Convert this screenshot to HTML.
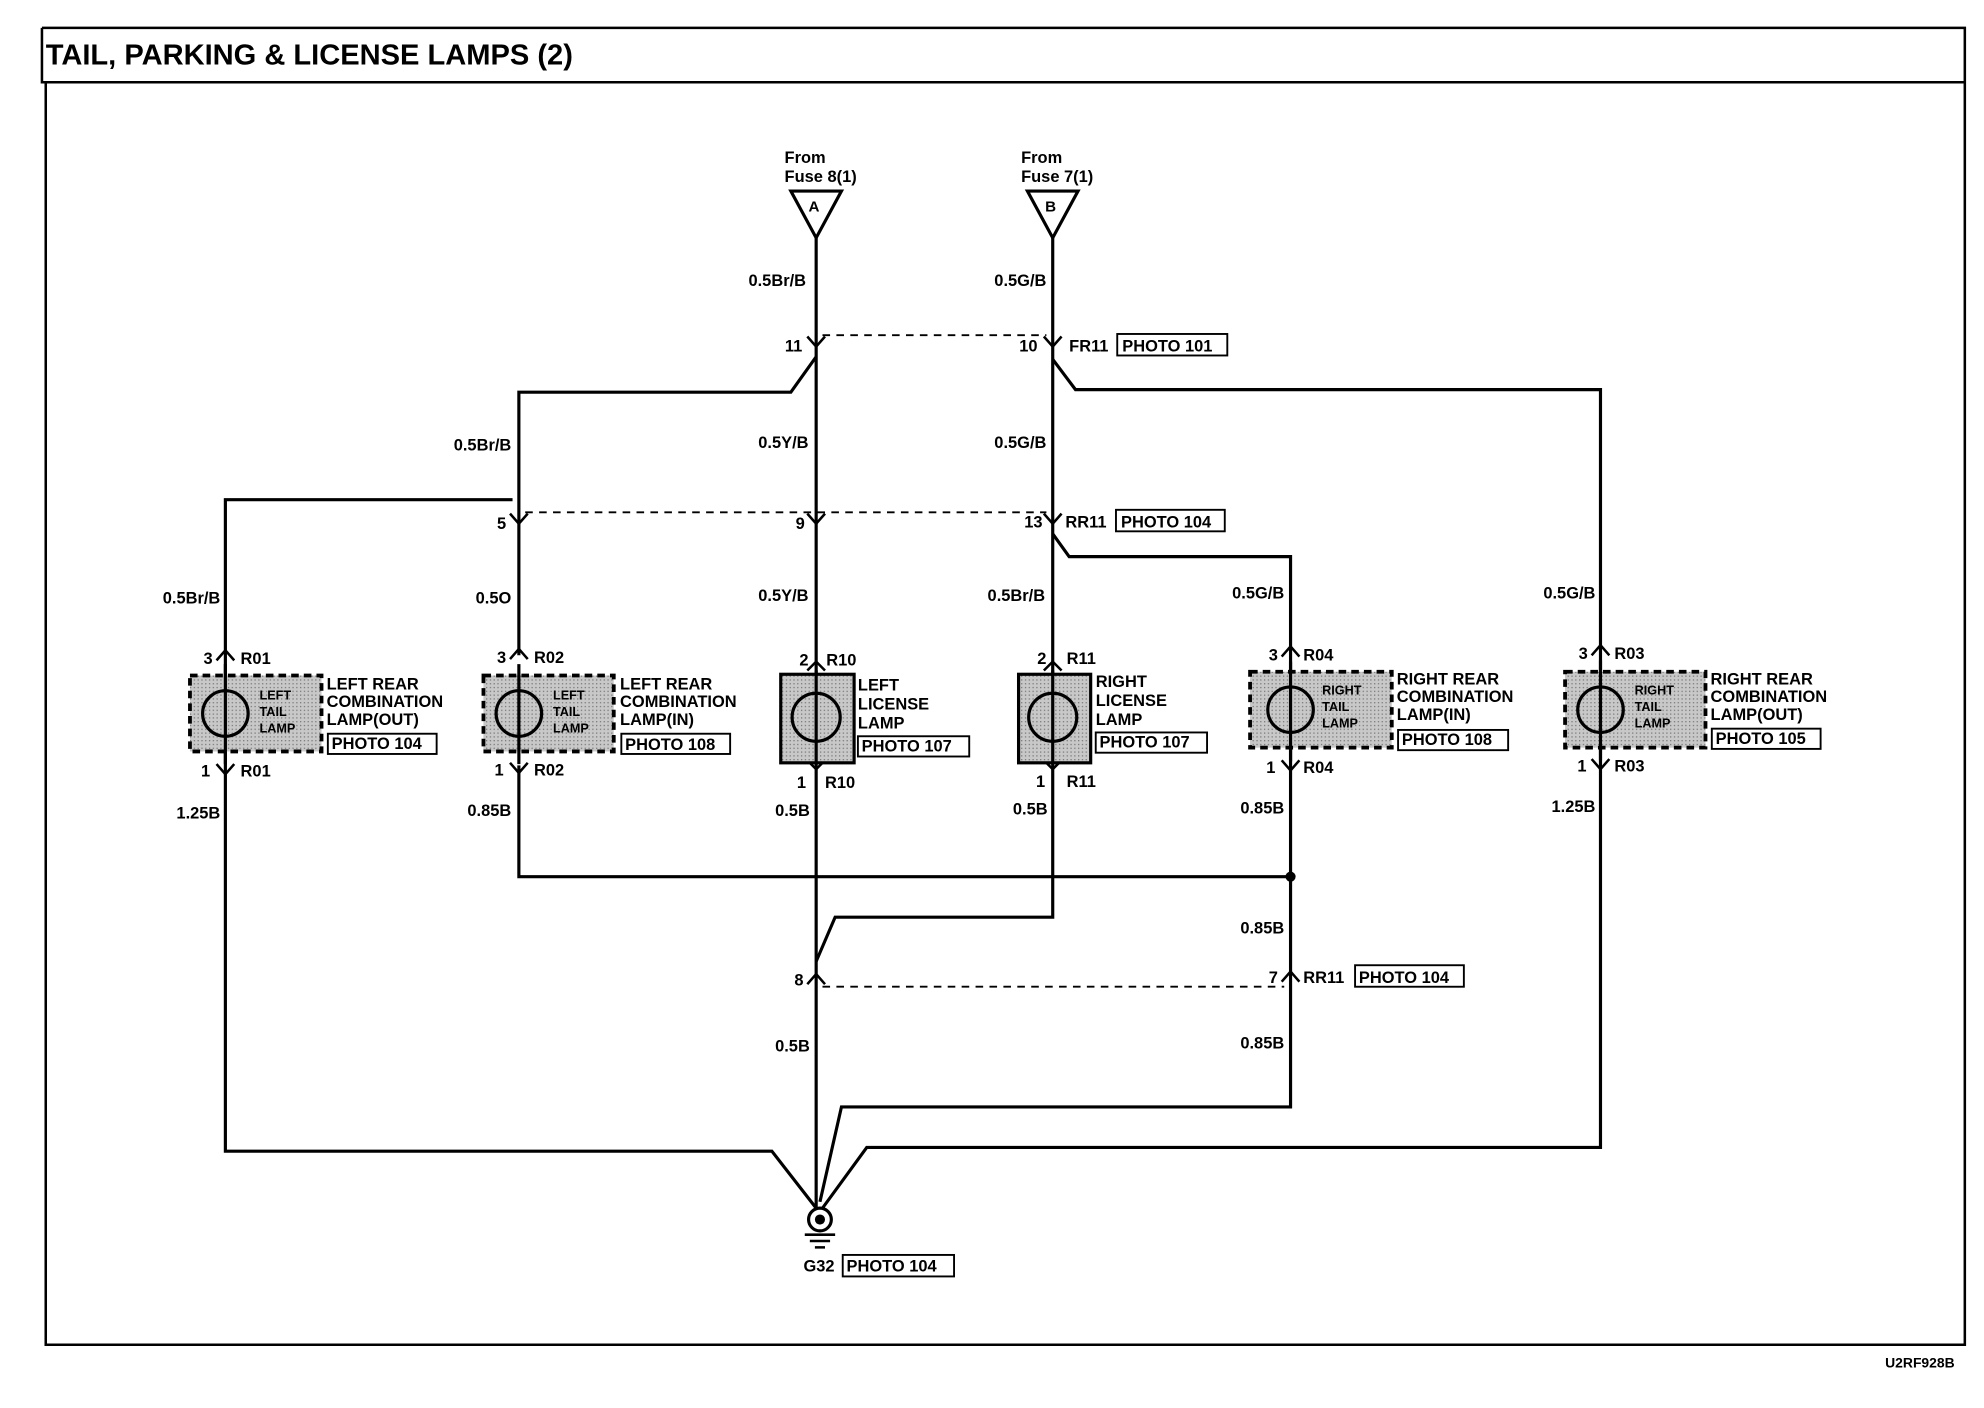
<!DOCTYPE html>
<html><head><meta charset="utf-8"><style>
html,body{margin:0;padding:0;background:#fff;}
svg{display:block}
text{font-family:"Liberation Sans",sans-serif;font-weight:bold;fill:#000;}
</style></head><body>
<svg width="1984" height="1408" viewBox="0 0 1568 1113" xmlns="http://www.w3.org/2000/svg">
<defs>
<pattern id="g" width="3" height="3" patternUnits="userSpaceOnUse"><rect width="3" height="3" fill="#c8c8c8"/><rect width="1" height="1" fill="#777"/></pattern>
</defs>
<!-- frame -->
<g fill="none" stroke="#000" stroke-width="2">
<path d="M33 22 H1553 V1063 H36 V65"/>
<path d="M33 22 V65 H1553"/>
</g>
<text x="36" y="51" font-size="23">TAIL, PARKING &amp; LICENSE LAMPS (2)</text>
<text x="1490" y="1081" font-size="11">U2RF928B</text>

<!-- fuses -->
<text x="620" y="129" font-size="13">From</text><text x="620" y="144" font-size="13">Fuse 8(1)</text>
<text x="807" y="129" font-size="13">From</text><text x="807" y="144" font-size="13">Fuse 7(1)</text>
<path d="M625 151 H665 L645 188 Z" fill="#fff" stroke="#000" stroke-width="2.5"/>
<path d="M812 151 H852 L832 188 Z" fill="#fff" stroke="#000" stroke-width="2.5"/>
<text x="639" y="167" font-size="12">A</text><text x="826" y="167" font-size="12">B</text>

<!-- wires -->
<g fill="none" stroke="#000" stroke-width="2.5">
<path d="M645 188 V955"/>
<path d="M832 188 V725 H660 L645 760"/>
<path d="M645 282 L625 310 H410 V518"/>
<path d="M405 395 H178 V910 H610 L645 955"/>
<path d="M832 284 L850 308 H1265 V907 H685 L650 955"/>
<path d="M832 422 L845 440 H1020 V875 H665 L648 950"/>
<path d="M410 605 V693 H1020"/>
</g>
<circle cx="1020" cy="693" r="4"/>
<g fill="none" stroke="#000" stroke-width="1.5" stroke-dasharray="6,5">
<path d="M650 265 H827"/><path d="M415 405 H827"/><path d="M650 780 H1015"/>
</g>

<!-- down chevrons (inline connectors) -->
<g fill="none" stroke="#000" stroke-width="2">
<path d="M638 266 l7 8 l7 -8"/><path d="M825 266 l7 8 l7 -8"/>
<path d="M403 406 l7 8 l7 -8"/><path d="M638 406 l7 8 l7 -8"/><path d="M825 406 l7 8 l7 -8"/>
<path d="M638 778 l7 -8 l7 8"/><path d="M1013 776 l7 -8 l7 8"/>
<!-- lamp pins top ^ -->
<path d="M171 522 l7 -8 l7 8"/><path d="M403 521 l7 -8 l7 8"/><path d="M638 530 l7 -7 l7 7"/><path d="M825 530 l7 -7 l7 7"/><path d="M1013 519 l7 -8 l7 8"/><path d="M1258 518 l7 -8 l7 8"/>
<!-- lamp pins bottom v -->
<path d="M171 604 l7 8 l7 -8"/><path d="M403 603 l7 8 l7 -8"/><path d="M638 601 l7 7 l7 -7"/><path d="M825 601 l7 7 l7 -7"/><path d="M1013 601 l7 8 l7 -8"/><path d="M1258 600 l7 8 l7 -8"/>
</g>

<!-- lamps -->
<g stroke="#000">
<rect x="150" y="534" width="104" height="60" fill="url(#g)" stroke-width="3" stroke-dasharray="6,4"/>
<rect x="382" y="534" width="103" height="60" fill="url(#g)" stroke-width="3" stroke-dasharray="6,4"/>
<rect x="617" y="533" width="58" height="70" fill="url(#g)" stroke-width="2.5"/>
<rect x="805" y="533" width="57" height="70" fill="url(#g)" stroke-width="2.5"/>
<rect x="988" y="531" width="112" height="60" fill="url(#g)" stroke-width="3" stroke-dasharray="6,4"/>
<rect x="1237" y="531" width="111" height="60" fill="url(#g)" stroke-width="3" stroke-dasharray="6,4"/>
<g fill="none" stroke-width="2.5">
<circle cx="178" cy="564" r="18"/><circle cx="410" cy="564" r="18"/><circle cx="645" cy="567" r="19"/><circle cx="832" cy="567" r="19"/><circle cx="1020" cy="561" r="18"/><circle cx="1265" cy="561" r="18"/>
</g>
<g stroke-width="2.5"><path d="M178 525 V604"/><path d="M410 525 V604"/><path d="M645 530 V604"/><path d="M832 530 V604"/><path d="M1020 523 V602"/><path d="M1265 522 V601"/></g>
</g>
<g font-size="10">
<text x="205" y="553">LEFT</text><text x="205" y="566">TAIL</text><text x="205" y="579">LAMP</text>
<text x="437" y="553">LEFT</text><text x="437" y="566">TAIL</text><text x="437" y="579">LAMP</text>
<text x="1045" y="549">RIGHT</text><text x="1045" y="562">TAIL</text><text x="1045" y="575">LAMP</text>
<text x="1292" y="549">RIGHT</text><text x="1292" y="562">TAIL</text><text x="1292" y="575">LAMP</text>
</g>
<g font-size="13">
<text x="258" y="545">LEFT REAR</text><text x="258" y="559">COMBINATION</text><text x="258" y="573">LAMP(OUT)</text><text x="262" y="592">PHOTO 104</text>
<text x="490" y="545">LEFT REAR</text><text x="490" y="559">COMBINATION</text><text x="490" y="573">LAMP(IN)</text><text x="494" y="593">PHOTO 108</text>
<text x="678" y="546">LEFT</text><text x="678" y="561">LICENSE</text><text x="678" y="576">LAMP</text><text x="681" y="594">PHOTO 107</text>
<text x="866" y="543">RIGHT</text><text x="866" y="558">LICENSE</text><text x="866" y="573">LAMP</text><text x="869" y="591">PHOTO 107</text>
<text x="1104" y="541">RIGHT REAR</text><text x="1104" y="555">COMBINATION</text><text x="1104" y="569">LAMP(IN)</text><text x="1108" y="589">PHOTO 108</text>
<text x="1352" y="541">RIGHT REAR</text><text x="1352" y="555">COMBINATION</text><text x="1352" y="569">LAMP(OUT)</text><text x="1356" y="588">PHOTO 105</text>
</g>
<g fill="none" stroke="#000" stroke-width="1.5">
<rect x="259" y="580" width="86" height="16"/><rect x="491" y="580" width="86" height="16"/><rect x="678" y="582" width="88" height="16"/><rect x="866" y="579" width="88" height="16"/><rect x="1105" y="577" width="87" height="16"/><rect x="1353" y="576" width="86" height="16"/>
<rect x="883" y="264" width="87" height="17"/><rect x="882" y="403" width="86" height="17"/><rect x="1071" y="763" width="86" height="17"/><rect x="666" y="992" width="88" height="17"/>
</g>

<!-- labels -->
<g font-size="13" text-anchor="end">
<text x="637" y="226">0.5Br/B</text><text x="827" y="226">0.5G/B</text>
<text x="634" y="278">11</text><text x="820" y="278">10</text>
<text x="404" y="356">0.5Br/B</text><text x="639" y="354">0.5Y/B</text><text x="827" y="354">0.5G/B</text>
<text x="400" y="418">5</text><text x="636" y="418">9</text><text x="824" y="417">13</text>
<text x="174" y="477">0.5Br/B</text><text x="404" y="477">0.5O</text><text x="639" y="475">0.5Y/B</text><text x="826" y="475">0.5Br/B</text><text x="1015" y="473">0.5G/B</text><text x="1261" y="473">0.5G/B</text>
<text x="168" y="525">3</text><text x="400" y="524">3</text><text x="639" y="526">2</text><text x="827" y="525">2</text><text x="1010" y="522">3</text><text x="1255" y="521">3</text>
<text x="166" y="614">1</text><text x="398" y="613">1</text><text x="637" y="623">1</text><text x="826" y="622">1</text><text x="1008" y="611">1</text><text x="1254" y="610">1</text>
<text x="174" y="647">1.25B</text><text x="404" y="645">0.85B</text><text x="640" y="645">0.5B</text><text x="828" y="644">0.5B</text><text x="1015" y="643">0.85B</text><text x="1261" y="642">1.25B</text>
<text x="1015" y="738">0.85B</text><text x="635" y="779">8</text><text x="1010" y="777">7</text>
<text x="640" y="831">0.5B</text><text x="1015" y="829">0.85B</text>
</g>
<g font-size="13">
<text x="845" y="278">FR11</text><text x="887" y="278">PHOTO 101</text>
<text x="842" y="417">RR11</text><text x="886" y="417">PHOTO 104</text>
<text x="1030" y="777">RR11</text><text x="1074" y="777">PHOTO 104</text>
<text x="190" y="525">R01</text><text x="422" y="524">R02</text><text x="653" y="526">R10</text><text x="843" y="525">R11</text><text x="1030" y="522">R04</text><text x="1276" y="521">R03</text>
<text x="190" y="614">R01</text><text x="422" y="613">R02</text><text x="652" y="623">R10</text><text x="843" y="622">R11</text><text x="1030" y="611">R04</text><text x="1276" y="610">R03</text>
<text x="635" y="1005">G32</text><text x="669" y="1005">PHOTO 104</text>
</g>
<!-- ground -->
<circle cx="648" cy="964" r="9" fill="#fff" stroke="#000" stroke-width="2.5"/>
<circle cx="648" cy="964" r="4"/>
<path d="M636 976 H660 M640 981 H656 M644 986 H652" stroke="#000" stroke-width="2"/>
</svg>
</body></html>
